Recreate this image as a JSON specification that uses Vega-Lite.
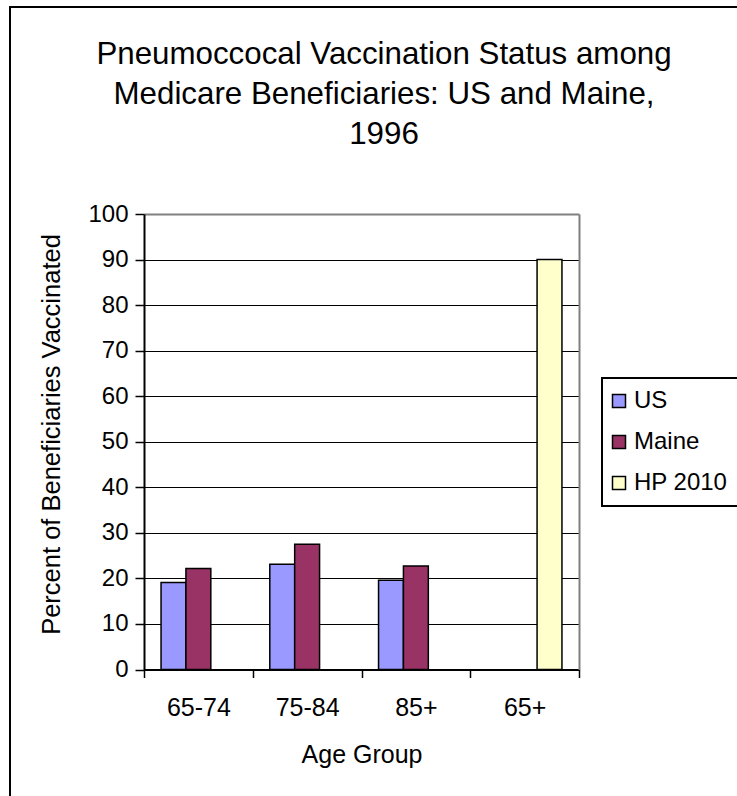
{
  "$schema": "https://vega.github.io/schema/vega-lite/v6.json",
  "width": 748,
  "height": 800,
  "autosize": {"type": "none"},
  "padding": {"left": 10, "top": 7, "right": 0, "bottom": 0},
  "background": "white",
  "title": {
    "text": ["Pneumoccocal Vaccination Status among", "Medicare Beneficiaries: US and Maine,", "1996"],
    "orient": "top",
    "anchor": "middle",
    "frame": "group",
    "offset": -143,
    "baseline": "top",
    "fontSize": 31.3,
    "fontWeight": "normal",
    "lineHeight": 40,
    "color": "black"
  },
  "resolve": {"axis": {"y": "independent"}},
  "layer": [
    {
      "data": {
        "values": [
          {"age": "65-74", "series": "US", "pct": 19.1},
          {"age": "65-74", "series": "Maine", "pct": 22.2},
          {"age": "75-84", "series": "US", "pct": 23.1},
          {"age": "75-84", "series": "Maine", "pct": 27.5},
          {"age": "85+", "series": "US", "pct": 19.6},
          {"age": "85+", "series": "Maine", "pct": 22.7},
          {"age": "65+", "series": "HP 2010", "pct": 90}
        ]
      },
      "mark": {"type": "bar", "stroke": "black", "strokeWidth": 1.5},
      "encoding": {
        "x": {
          "field": "age",
          "type": "nominal",
          "scale": {"domain": ["65-74", "75-84", "85+", "65+"], "range": [134, 569], "paddingInner": 0, "paddingOuter": 0},
          "axis": {
            "orient": "bottom",
            "offset": -137.5,
            "title": "Age Group",
            "labelAngle": 0,
            "tickBand": "extent",
            "tickSize": 8,
            "tickColor": "black",
            "tickWidth": 1.5,
            "domainColor": "black",
            "domainWidth": 2,
            "labelFontSize": 25,
            "labelColor": "black",
            "labelPadding": 18,
            "titleFontSize": 25,
            "titleFontWeight": "normal",
            "titleColor": "black",
            "titlePadding": 22,
            "grid": false
          }
        },
        "xOffset": {
          "field": "series",
          "type": "nominal",
          "scale": {"domain": ["US", "Maine", "HP 2010"], "paddingInner": 0, "paddingOuter": 0.685}
        },
        "y": {
          "field": "pct",
          "type": "quantitative",
          "scale": {"domain": [0, 100], "range": [662.5, 207], "nice": false},
          "axis": {
            "orient": "left",
            "offset": -134,
            "values": [0, 10, 20, 30, 40, 50, 60, 70, 80, 90, 100],
            "title": "Percent of Beneficiaries Vaccinated",
            "titleFontSize": 25.5,
            "titleFontWeight": "normal",
            "titleColor": "black",
            "titlePadding": 23,
            "titleY": 427,
            "labelFontSize": 24,
            "labelColor": "black",
            "labelPadding": 7,
            "tickSize": 9,
            "tickColor": "black",
            "tickWidth": 1.5,
            "domainColor": "black",
            "domainWidth": 2,
            "grid": true,
            "gridColor": {"condition": {"test": "datum.value === 100", "value": "#808080"}, "value": "black"},
            "gridWidth": {"condition": {"test": "datum.value === 100", "value": 2}, "value": 1}
          }
        },
        "color": {
          "field": "series",
          "type": "nominal",
          "scale": {"domain": ["US", "Maine", "HP 2010"], "range": ["#9999FF", "#993366", "#FFFFCC"]},
          "legend": {
            "title": " ",
            "titleOrient": "right",
            "titleFontSize": 24,
            "titlePadding": 14,
            "orient": "none",
            "legendX": 592,
            "legendY": 371,
            "strokeColor": "black",
            "fillColor": "white",
            "padding": 11,
            "rowPadding": 17,
            "symbolType": "square",
            "symbolSize": 169,
            "symbolOffset": -6,
            "symbolStrokeColor": "black",
            "symbolStrokeWidth": 1.5,
            "labelFontSize": 24,
            "labelColor": "black",
            "labelOffset": 3
          }
        }
      }
    },
    {
      "data": {"values": []},
      "mark": {"type": "rule"},
      "encoding": {
        "y": {
          "field": "pct",
          "type": "quantitative",
          "axis": {
            "orient": "right",
            "offset": -179,
            "domainColor": "#808080",
            "domainWidth": 2,
            "ticks": false,
            "labels": false,
            "title": null,
            "grid": false
          }
        }
      }
    }
  ],
  "config": {
    "font": "Liberation Sans",
    "view": {"stroke": "black", "strokeWidth": 2},
    "legend": {"strokeWidth": 2}
  }
}
